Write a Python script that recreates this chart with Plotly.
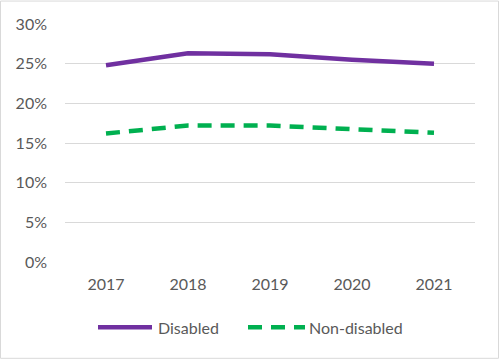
import plotly.graph_objects as go

years = ["2017", "2018", "2019", "2020", "2021"]
disabled = [0.248, 0.263, 0.262, 0.255, 0.250]
non_disabled = [0.162, 0.172, 0.172, 0.167, 0.163]
y_ticks = [0, 0.05, 0.10, 0.15, 0.20, 0.25, 0.30]
y_tick_labels = ["0%", "5%", "10%", "15%", "20%", "25%", "30%"]

PURPLE = "#7030a0"
GREEN = "#00b050"
TXT = "#595959"
FONT = "Lato"
FS = 16
FW = 400

fig = go.Figure()
fig.add_trace(go.Scatter(x=years, y=disabled, mode="lines", name="Disabled",
                         line=dict(color=PURPLE, width=4.5)))
fig.add_trace(go.Scatter(x=years, y=non_disabled, mode="lines", name="Non-disabled",
                         line=dict(color=GREEN, width=4.5, dash="14px,9px")))

W, H = 499, 359
L, R, T, B = 65, 24, 23.5, 97
pw, ph = W - L - R, H - T - B

def px(x):
    return (x - L) / pw

def py(y):
    return (H - B - y) / ph

fnt = dict(family=FONT, size=FS, color=TXT, weight=FW)

shapes = [
    dict(type="rect", xref="paper", yref="paper", x0=px(0.5), x1=px(W - 0.5),
         y0=py(0.5), y1=py(H - 0.5), line=dict(color="#d9d9d9", width=1), layer="below"),
    dict(type="line", xref="paper", yref="paper", x0=px(98), x1=px(152),
         y0=py(327.5), y1=py(327.5), line=dict(color=PURPLE, width=4.5)),
    dict(type="line", xref="paper", yref="paper", x0=px(248), x1=px(305),
         y0=py(327.5), y1=py(327.5), line=dict(color=GREEN, width=4.5, dash="14px,9px")),
]
annotations = [
    dict(xref="paper", yref="paper", x=px(156), y=py(327.5), text="Disabled",
         showarrow=False, xanchor="left", yanchor="middle", font=fnt),
    dict(xref="paper", yref="paper", x=px(307), y=py(327.5), text="Non-disabled",
         showarrow=False, xanchor="left", yanchor="middle", font=fnt),
]

fig.update_layout(
    width=W, height=H,
    margin=dict(l=L, r=R, t=T, b=B),
    paper_bgcolor="white", plot_bgcolor="white",
    showlegend=False,
    font=fnt,
    shapes=shapes, annotations=annotations,
    xaxis=dict(type="category", showgrid=False, zeroline=False, showline=False,
               ticks="", ticklabelstandoff=11, range=[-0.5, 4.5], tickfont=fnt),
    yaxis=dict(range=[0, 0.30], tickvals=y_ticks, ticktext=y_tick_labels,
               showgrid=True, gridcolor="#d9d9d9", gridwidth=1.3,
               zeroline=False, showline=False, ticks="", ticklabelstandoff=17,
               tickfont=fnt),
)

fig.write_html("out.html", config={"displayModeBar": False},
               post_script="document.body.style.margin='0';document.body.style.padding='0';")
